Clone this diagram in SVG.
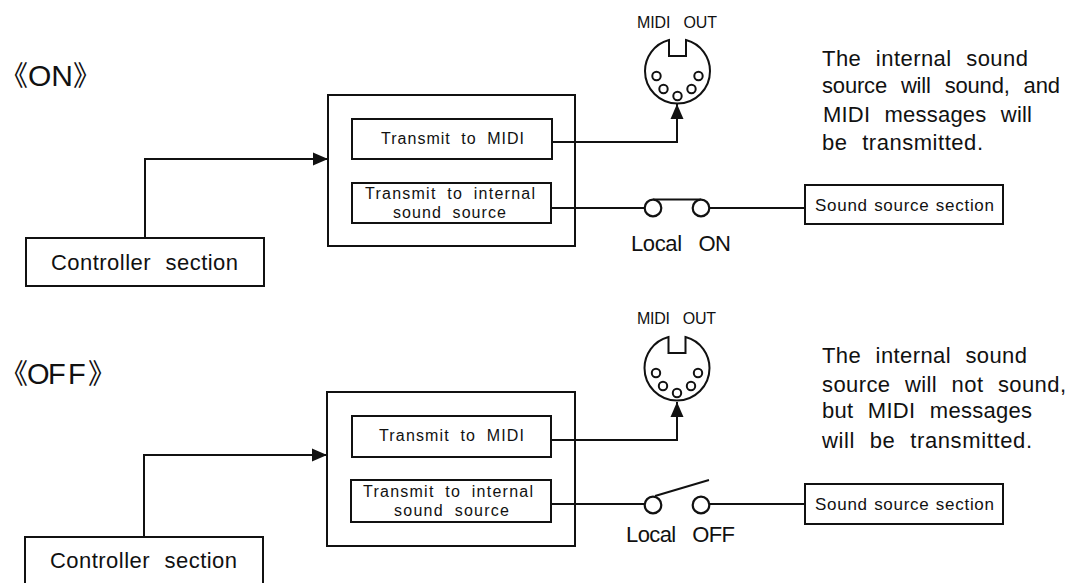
<svg xmlns="http://www.w3.org/2000/svg" width="1071" height="583" viewBox="0 0 1071 583">
<style>
text{font-family:"Liberation Sans",Arial,"Noto Sans CJK SC",sans-serif;fill:#111;}
.b{fill:#fff;stroke:#111;stroke-width:2;}
.w{fill:none;stroke:#111;stroke-width:2;}
.c{fill:#fff;stroke:#111;stroke-width:2.200;}
.p{fill:#fff;stroke:#111;stroke-width:2;}
.s{font-size:16px;word-spacing:5px;}
.q{font-size:17px;word-spacing:1px;}
.m{font-size:22px;word-spacing:8px;}
.o{font-size:16px;word-spacing:9px;}
</style>
<defs>
<marker id="arrow" markerUnits="userSpaceOnUse" markerWidth="16" markerHeight="14" refX="15" refY="7" orient="auto"><path d="M0 .5L15 7L0 13.500Z" fill="#111"/></marker>
<g id="din">
<path class="w" d="M-8.500-31C-24-27-32.500-13-32.500 0C-32.500 18-18 32.500 0 32.500C18 32.500 32.500 18 32.500 0C32.500-13 24-27 8.500-31V-15H-8.500Z"/>
<circle class="p" cx="-21" cy="5" r="4.200"/><circle class="p" cx="21" cy="5" r="4.200"/>
<circle class="p" cx="-14" cy="18" r="4.200"/><circle class="p" cx="14" cy="18" r="4.200"/>
<circle class="p" cx="0" cy="25" r="4.200"/>
</g>
</defs>
<g id="controller-on"><rect class="b" x="26" y="238" width="238" height="48"/><text class="m" x="51" y="270" textLength="187">Controller section</text></g>
<g id="midi-block-on"><rect class="b" x="328" y="95" width="247" height="151"/></g>
<g id="transmit-midi-on"><rect class="b" x="352" y="119" width="200" height="40"/><text class="s" x="381" y="144" textLength="143">Transmit to MIDI</text></g>
<g id="transmit-internal-on"><rect class="b" x="352" y="183" width="199" height="40"/><text class="s" x="365" y="199" textLength="170">Transmit to internal</text><text class="s" x="393" y="218" textLength="113">sound source</text></g>
<g id="midi-out-on"><text class="o" x="637" y="28" textLength="80">MIDI OUT</text><use href="#din" x="677.500" y="71"/></g>
<g id="sound-on"><rect class="b" x="805" y="185" width="198" height="39"/><text class="q" x="815" y="211" textLength="179">Sound source section</text></g>
<g id="controller-off"><rect class="b" x="25" y="537" width="238" height="50"/><text class="m" x="50" y="568" textLength="187">Controller section</text></g>
<g id="midi-block-off"><rect class="b" x="327" y="392" width="248" height="154"/></g>
<g id="transmit-midi-off"><rect class="b" x="352" y="416" width="199" height="41"/><text class="s" x="379" y="441" textLength="145">Transmit to MIDI</text></g>
<g id="transmit-internal-off"><rect class="b" x="351" y="480" width="200" height="42"/><text class="s" x="363" y="497" textLength="170">Transmit to internal</text><text class="s" x="394" y="516" textLength="115">sound source</text></g>
<g id="midi-out-off"><text class="o" x="637" y="324" textLength="79">MIDI OUT</text><use href="#din" x="677" y="368"/></g>
<g id="sound-off"><rect class="b" x="805" y="484" width="198" height="40"/><text class="q" x="815" y="510" textLength="179">Sound source section</text></g>
<g id="connectors">
<path class="w" d="M145 238V159H328" marker-end="url(#arrow)"/>
<path class="w" d="M552 142H677V104" marker-end="url(#arrow)"/>
<path class="w" d="M551 208H645M653 199.500H701M709 208H805"/>
<path class="w" d="M144 537V455H327" marker-end="url(#arrow)"/>
<path class="w" d="M551 440H677V402" marker-end="url(#arrow)"/>
<path class="w" d="M551 504H645M655 496L709 480M709 504H805"/>
</g>
<g id="switch-on"><circle class="c" cx="653" cy="208" r="8.300"/><circle class="c" cx="701" cy="208" r="8.300"/><text class="m" x="631" y="251" style="word-spacing:11px" textLength="100">Local ON</text></g>
<g id="switch-off"><circle class="c" cx="653" cy="505" r="8.300"/><circle class="c" cx="701" cy="505" r="8.300"/><text class="m" x="626" y="542" style="word-spacing:11px" textLength="109">Local OFF</text></g>
<text id="title-on" font-size="30" y="86"><tspan font-size="28" x="0" y="86">《</tspan><tspan x="28" y="86">ON</tspan><tspan font-size="28" x="73" y="86">》</tspan></text>
<text id="title-off" font-size="29" y="384"><tspan font-size="28" x="0" y="384">《</tspan><tspan x="27 48 68" y="384">OFF</tspan><tspan font-size="28" x="88" y="384">》</tspan></text>
<g id="note-on"><text class="m" x="822" y="66" textLength="206">The internal sound</text><text class="m" x="822" y="93" textLength="238">source will sound, and</text><text class="m" x="823" y="122" textLength="209">MIDI messages will</text><text class="m" x="822" y="150" textLength="161">be transmitted.</text></g>
<g id="note-off"><text class="m" x="822" y="363" textLength="205">The internal sound</text><text class="m" x="822" y="392" textLength="244">source will not sound,</text><text class="m" x="822" y="418" textLength="210">but MIDI messages</text><text class="m" x="822" y="448" textLength="210">will be transmitted.</text></g>
</svg>
